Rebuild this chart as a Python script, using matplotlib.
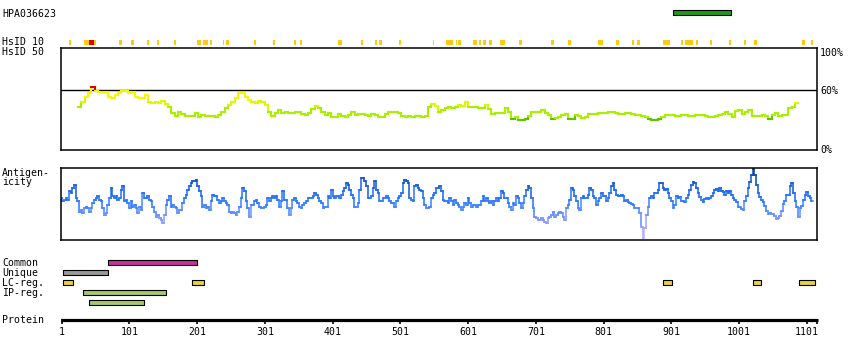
import numpy as np
import matplotlib
matplotlib.use("Agg")
import matplotlib.pyplot as plt
from matplotlib.collections import LineCollection
from matplotlib.colors import LinearSegmentedColormap

# ---------------- data ----------------
protein_length = 1116
tick_residues = [1, 101, 201, 301, 401, 501, 601, 701, 801, 901, 1001, 1101]
tick_labels = ["1", "101", "201", "301", "401", "501", "601", "701", "801", "901", "1001", "1101"]

antigen_name = "HPA036623"
antigen_span = [(904, 988)]

# HsID 10 hits (residue start, end)
hsid10_spans = [(13, 15), (34, 41), (50, 51), (87, 90), (104, 107), (127, 129), (143, 144),
                (168, 170), (202, 206), (211, 216), (220, 222), (240, 241), (244, 247),
                (285, 287), (314, 316), (345, 346), (354, 356), (409, 414), (444, 446),
                (464, 466), (470, 474), (500, 502), (549, 550), (569, 578), (583, 584),
                (586, 590), (609, 613), (617, 619), (623, 627), (633, 635), (649, 655),
                (676, 680), (724, 727), (749, 752), (793, 799), (820, 823), (844, 845),
                (851, 854), (889, 898), (915, 917), (922, 929), (931, 932), (938, 940),
                (959, 960), (986, 988), (1009, 1010), (1023, 1027), (1094, 1097), (1107, 1110)]
hsid10_red_spans = [(42, 49)]

# HsID 50 identity (%) sampled every ~4.92 residues starting at residue 27.6
hsid50_start = 27.6
hsid50_step = 4.921
hsid50_pct = [
    42.7, 48.3, 53.3, 56.7, 62.7, 59, 58.3, 58.3, 58.3, 53.3,
    51.7, 55, 56.7, 59.5, 59, 57.3, 58.3, 53.3, 51.7, 51.7,
    55, 48.3, 46.7, 48.3, 47.3, 49.3, 46, 43.3, 36.7, 34,
    38.3, 36, 34, 34, 34, 36.7, 33.3, 35, 34, 34,
    34, 32.7, 35, 38.3, 41.7, 45, 48.3, 51.7, 56.7, 56.7,
    53.3, 50, 48.3, 46.7, 49.3, 48.3, 45, 38.3, 34, 36.7,
    40, 37.3, 38.3, 37.3, 37.3, 38.3, 38.3,
    36, 35, 36.7, 40.7, 44, 42.3, 38.3, 35, 37.3, 33.3,
    32.7, 36, 34, 32.7, 35, 38.3, 35, 36, 36, 35,
    34, 36, 35, 32.7, 33.3, 36, 38.3, 38.3, 38.3, 37.3,
    34, 33.3, 34, 33.3, 34, 34, 32.7, 34, 43.3, 46,
    44, 38.3, 40, 41.7, 42.7, 41.7, 43.3, 45, 44, 48.3,
    43.3, 42.7, 43.3, 41.7, 41.7, 45, 40.7, 36, 37.3, 36.7,
    37.3, 41.7, 38.3, 30.7, 32.7, 30, 30, 30.7, 34, 38.3,
    38.3, 38.3, 40, 36.7, 35, 30.7, 31.7, 32.7, 35, 36,
    30.7, 30.7, 35, 34, 31.7, 32.7, 36, 36, 36, 36.7,
    37, 37, 38, 38, 37, 36, 36, 37, 37, 36,
    35, 35, 34, 33, 31, 30, 30, 31, 33, 35,
    35, 35, 34, 34, 35, 35, 34, 34, 35,
    35, 35, 34, 33.3, 32.7, 34, 35, 36, 38.3, 36,
    32.7, 39.3, 40, 36, 38.3, 40, 34, 34, 34, 35,
    34, 30.7, 35, 36.7, 34, 35, 35, 41.7, 43.3, 47.3,
]

# Antigenicity profile sampled every ~2.46 residues from residue 1
ag_step = 2.461
ag_values = [
    125, 115, 120, 125, 120, 145, 140, 155, 165, 125,
    115, 85, 90, 80, 95, 100, 95, 85, 95, 110,
    120, 125, 130, 120, 115, 95, 75, 80, 105, 125,
    155, 130, 125, 130, 120, 125, 150, 160, 115, 120,
    110, 95, 115, 100, 105, 95, 80, 100, 90, 140,
    125, 125, 130, 120, 115, 100, 85, 70, 75, 65,
    60, 50, 75, 105, 120, 130, 100, 105, 100, 95,
    80, 90, 90, 110, 125, 135, 150, 160, 170, 175,
    175, 180, 160, 145, 130, 100, 105, 95, 100, 90,
    115, 135, 130, 130, 120, 110, 115, 125, 115, 110,
    105, 85, 80, 85, 80, 75, 85, 100, 125, 155,
    145, 115, 95, 70,
    105, 105, 115, 120, 110, 100, 95, 95, 100, 105,
    125, 115, 125, 130, 125, 130, 120, 100, 115, 145,
    120, 120, 95, 75, 95, 120, 125, 115, 110, 100,
    95, 105, 110, 115, 125, 125, 125, 130, 140, 135,
    125, 115, 110, 95, 100, 100, 130, 125, 150, 130,
    125, 130, 130, 125, 135, 145, 155, 170, 165, 150,
    135, 125, 100, 100, 110, 150, 185, 185, 175, 160,
    125, 125, 130, 155, 175, 150, 140, 115, 115, 125,
    125, 130, 125, 115, 110, 110, 100, 115, 125, 130,
    140, 170, 180, 175, 170, 125, 120, 115, 160, 165,
    155, 150, 145, 125, 105, 95, 95, 100, 125, 135,
    140, 155,
    155, 160, 145, 120, 115, 115, 110, 125, 115, 105,
    120, 110, 105, 100, 90, 100, 110, 105, 125, 110,
    100, 105, 105, 100, 105, 105, 115, 130, 115, 125,
    115, 110, 115, 105, 115, 125, 115, 125, 145, 140,
    125, 125, 110, 100, 90, 110, 105, 130, 125, 110,
    95, 110, 130, 150, 160, 155, 125, 95, 70, 65,
    60, 60, 65, 60, 55, 50, 65, 70, 75, 85,
    70, 75, 80, 85, 80, 70, 60, 95, 105, 120,
    155, 150, 130, 115, 95, 90, 125, 130, 125, 125,
    135, 155, 150, 130, 125, 105, 115, 125, 140, 130,
    130, 115, 125, 140, 160, 170, 150, 135, 130, 130,
    135, 130, 115,
    120, 113, 110, 107, 105, 97, 97, 95, 80, 40,
    5, 35, 75, 100, 125, 130, 125, 140, 140, 150,
    170, 170, 155, 150, 153, 140, 125, 115, 95, 105,
    130, 125, 127, 115, 117, 113, 125, 135, 150, 163,
    173, 170, 155, 140, 128, 120, 113, 122, 125, 122,
    125, 130, 140, 150, 153, 147, 155, 147, 143, 135,
    147, 140, 147, 135, 125, 120, 113, 100, 100, 93,
    90, 115, 130, 155, 173, 193, 213, 195, 165, 140,
    127, 119, 113, 103, 87, 77, 80, 77, 78, 73,
    62, 67, 73, 87, 107, 117, 135, 133, 160, 170,
    140, 117, 100, 70, 97, 103, 120, 135, 143, 130,
    125, 117,
]

common_spans = [(70, 201)]
unique_spans = [(3, 69)]
lc_reg_spans = [(4, 17), (194, 211), (889, 901), (1022, 1033), (1090, 1113)]
ip_reg_spans_a = [(33, 155)]
ip_reg_spans_b = [(42, 122)]

# ---------------- layout helpers ----------------
W, H = 850, 360
PX0, PX_PER_RES = 61.5, 0.6777


def res_at(px):
    return (px - PX0) / PX_PER_RES + 1


def rect(x0, y0, x1, y1):
    return [x0 / W, 1 - y1 / H, (x1 - x0) / W, (y1 - y0) / H]


FONT = dict(family="DejaVu Sans Mono", fontsize=7.1, color="black")

fig = plt.figure(figsize=(W / 100, H / 100), dpi=100)
fig.patch.set_facecolor("white")

ax = fig.add_axes([0, 0, 1, 1])
ax.set_xlim(res_at(0), res_at(W))
ax.set_ylim(H, 0)
ax.axis("off")


def spans_to_bars(spans):
    return [(s - 0.5, e - s + 1) for s, e in spans]


# top: antibody bar
ax.broken_barh(spans_to_bars(antigen_span), (10, 4.7), facecolors="#1a9c1a",
               edgecolors="black", linewidth=0.8)
ax.text(res_at(2), 16.7, antigen_name, va="baseline", ha="left", **FONT)

# HsID 10 hits
ax.broken_barh(spans_to_bars(hsid10_spans), (40, 4.8), facecolors="#ffc814", linewidth=0)
ax.broken_barh(spans_to_bars(hsid10_red_spans), (40, 4.8), facecolors="#e00000", linewidth=0)
ax.text(res_at(2), 45.3, "HsID 10", va="baseline", ha="left", **FONT)
ax.text(res_at(2), 55.3, "HsID 50", va="baseline", ha="left", **FONT)

# right percent labels
ax.text(res_at(820), 56, "100%", va="baseline", ha="left", **FONT)
ax.text(res_at(820), 94, "60%", va="baseline", ha="left", **FONT)
ax.text(res_at(820), 153.3, "0%", va="baseline", ha="left", **FONT)

ax.text(res_at(2), 175.5, "Antigen-", va="baseline", ha="left", **FONT)
ax.text(res_at(2), 185.2, "icity", va="baseline", ha="left", **FONT)

# feature tracks
track_rows = [
    ("Common", common_spans, "#c8309c", 260, 266),
    ("Unique", unique_spans, "#999999", 270, 276),
    ("LC-reg.", lc_reg_spans, "#e8d23c", 280, 286),
    ("IP-reg.", ip_reg_spans_a, "#a4c86a", 290, 295.5),
]
for label, spans, color, ytop, base in track_rows:
    ax.broken_barh(spans_to_bars(spans), (ytop, 4.7), facecolors=color,
                   edgecolors="black", linewidth=0.8)
    ax.text(res_at(2), base, label, va="baseline", ha="left", **FONT)
ax.broken_barh(spans_to_bars(ip_reg_spans_b), (300, 4.7), facecolors="#a4c86a",
               edgecolors="black", linewidth=0.8)

# protein axis
ax.plot([res_at(61), res_at(817.5)], [319.8, 319.8], color="black", lw=2.3,
        solid_capstyle="butt")
ax.vlines(tick_residues + [protein_length], 318.5, 323.8, color="black", lw=1.2)
for t, lab in zip(tick_residues, tick_labels):
    ax.text(t, 334.7, lab, va="baseline", ha="center", **FONT)
ax.text(res_at(2), 322.7, "Protein", va="baseline", ha="left", **FONT)


def step_segments(xs, ys, half):
    segs, idx = [], []
    for i in range(len(xs)):
        x0, x1 = xs[i] - half, xs[i] + half
        segs.append([(x0, ys[i]), (x1, ys[i])])
        idx.append(i)
        if i + 1 < len(xs):
            segs.append([(x1, ys[i]), (x1, ys[i + 1])])
            idx.append(i)
    return segs, idx


# HsID 50 panel
axh = fig.add_axes(rect(61, 48, 817, 150))
axh.set_xlim(res_at(61), res_at(817))
axh.set_ylim(0, 102)
axh.set_xticks([])
axh.set_yticks([])
for s in axh.spines.values():
    s.set_linewidth(1.1)
axh.axhline(60, color="black", lw=1.0)

hs_x = hsid50_start + hsid50_step * np.arange(len(hsid50_pct))
hs_y = np.array(hsid50_pct, dtype=float)


def hs_color(p):
    if p >= 60:
        return "#e00000"
    if p >= 50:
        return "#f6f600"
    if p >= 44:
        return "#dcf800"
    if p >= 31.5:
        return "#a8f000"
    return "#5ec400"


segs, idx = step_segments(hs_x, hs_y, hsid50_step / 2)
lc = LineCollection(segs, colors=[hs_color(hs_y[i]) for i in idx], linewidths=1.5,
                    capstyle="projecting")
axh.add_collection(lc)

# Antigenicity panel
axa = fig.add_axes(rect(61, 168, 817, 240))
axa.set_xlim(res_at(61), res_at(817))
axa.set_ylim(0, 215)
axa.set_xticks([])
axa.set_yticks([])
for s in axa.spines.values():
    s.set_linewidth(1.1)

ag_x = 1 + ag_step * np.arange(len(ag_values))
ag_y = np.array(ag_values, dtype=float)
cmap = LinearSegmentedColormap.from_list(
    "ag", [(0.0, "#c8b4ff"), (0.2, "#9a9cff"), (0.38, "#5a8cff"), (0.52, "#2a78ff"),
           (0.68, "#1565f0"), (0.84, "#0a50c8"), (1.0, "#003a90")])
segs, idx = step_segments(ag_x, ag_y, ag_step / 2)
lc2 = LineCollection(segs, colors=[cmap(ag_y[i] / 215) for i in idx], linewidths=1.1,
                     capstyle="projecting")
axa.add_collection(lc2)

fig.savefig("out.png", dpi=100, facecolor="white")
